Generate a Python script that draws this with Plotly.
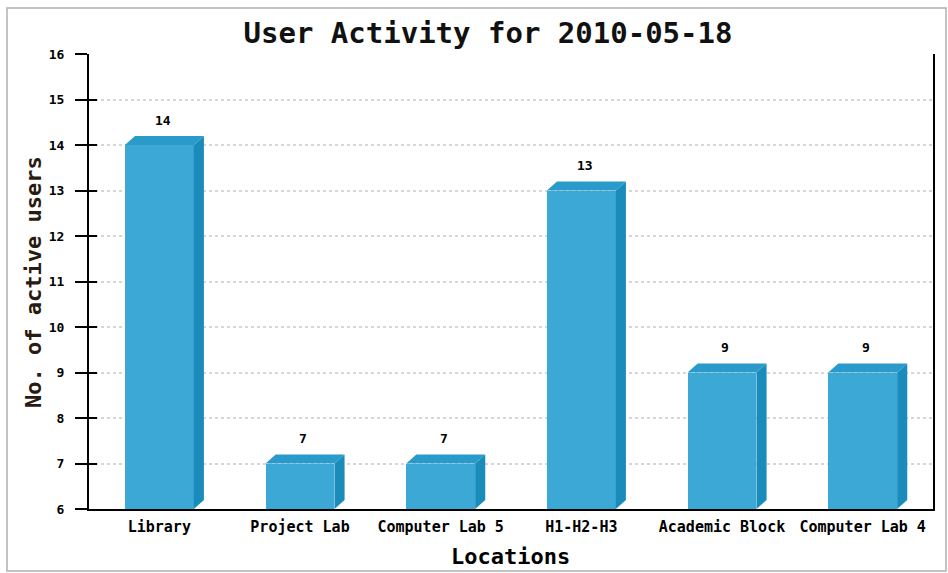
import plotly.graph_objects as go

categories = ["Library", "Project Lab", "Computer Lab 5", "H1-H2-H3", "Academic Block", "Computer Lab 4"]
active_users = [14, 7, 7, 13, 9, 9]
y_ticks = [6, 7, 8, 9, 10, 11, 12, 13, 14, 15, 16]

W, H = 948, 573
ML, MR, MT, MB = 89, 15, 54, 64
YMIN, YMAX = 6, 16
BAR_W = 0.49
DX = 0.072   # 3D depth in category units
DY = 0.2     # 3D depth in value units

FRONT = "#3ba8d5"
SIDE = "#1a8cbc"
TOP = "#2a9acb"
MONO = "DejaVu Sans Mono"

fig = go.Figure()

xs = list(range(len(categories)))
fig.add_trace(go.Bar(x=xs, y=active_users, width=BAR_W, marker=dict(color=FRONT, line=dict(width=0)),
                     hoverinfo="skip", showlegend=False))

for i, v in zip(xs, active_users):
    xl, xr = i - BAR_W / 2, i + BAR_W / 2
    # side face
    fig.add_trace(go.Scatter(x=[xr, xr + DX, xr + DX, xr, xr], y=[YMIN, YMIN + DY, v + DY, v, YMIN],
                             fill="toself", fillcolor=SIDE, mode="lines", line=dict(width=0),
                             hoverinfo="skip", showlegend=False))
    # top face
    fig.add_trace(go.Scatter(x=[xl, xl + DX, xr + DX, xr, xl], y=[v, v + DY, v + DY, v, v],
                             fill="toself", fillcolor=TOP, mode="lines", line=dict(width=0),
                             hoverinfo="skip", showlegend=False))
    fig.add_annotation(x=i + DX / 3, y=v, text=str(v), showarrow=False, yshift=25,
                       font=dict(family=MONO, size=13, color="black", weight="bold"))

# invisible trace for inner tick overlay axis
fig.add_trace(go.Scatter(x=[0], y=[YMIN], yaxis="y2", mode="markers", marker=dict(opacity=0),
                         hoverinfo="skip", showlegend=False))

fig.update_layout(
    width=W, height=H,
    margin=dict(l=ML, r=MR, t=MT, b=MB, autoexpand=False),
    paper_bgcolor="white", plot_bgcolor="white",
    title=dict(text="User Activity for 2010-05-18", x=488 / W, xref="container", xanchor="center",
               y=1 - 33 / H, yref="container", yanchor="middle",
               font=dict(family=MONO, size=29, color="#111", weight="bold")),
    xaxis=dict(range=[-0.5, len(categories) - 0.5], tickvals=xs, ticktext=categories,
               showline=True, linecolor="black", linewidth=2, showgrid=False, zeroline=False,
               ticks="", ticklabelstandoff=3,
               tickfont=dict(family=MONO, size=15, color="black", weight="bold"),
               fixedrange=True),
    yaxis=dict(range=[YMIN, YMAX], tickvals=y_ticks, showline=True, linecolor="black", linewidth=2,
               mirror=True, ticks="outside", ticklen=12, tickwidth=2, tickcolor="black",
               ticklabelstandoff=8,
               showgrid=True, gridcolor="#d6d6d6", griddash="dot", gridwidth=1.5, zeroline=False,
               tickfont=dict(family=MONO, size=13, color="black", weight="bold")),
    yaxis2=dict(range=[YMIN, YMAX], tickvals=y_ticks, overlaying="y", side="left", anchor="x",
                ticks="inside", ticklen=8, tickwidth=2, tickcolor="black", showticklabels=False,
                showgrid=False, zeroline=False, showline=False),
    bargap=0,
    annotations=list(fig.layout.annotations) + [
        dict(text="No. of active users", textangle=-90, xref="paper", yref="paper",
             x=(33 - ML) / (W - ML - MR), y=(H - MB - 282) / (H - MT - MB),
             xanchor="center", yanchor="middle", showarrow=False,
             font=dict(family=MONO, size=22, color="#2a1a10", weight="bold")),
        dict(text="Locations", xref="paper", yref="paper",
             x=(510 - ML) / (W - ML - MR), y=(H - MB - 556) / (H - MT - MB),
             xanchor="center", yanchor="middle", showarrow=False,
             font=dict(family=MONO, size=22, color="black", weight="bold")),
    ],
    shapes=[dict(type="rect", xref="paper", yref="paper",
                 x0=(7 - ML) / (W - ML - MR), x1=(946 - ML) / (W - ML - MR),
                 y0=(H - MB - 571) / (H - MT - MB), y1=(H - MB - 8) / (H - MT - MB),
                 line=dict(color="#b0b0b0", width=1.5), layer="below")],
)

fig.write_html("out.html")
